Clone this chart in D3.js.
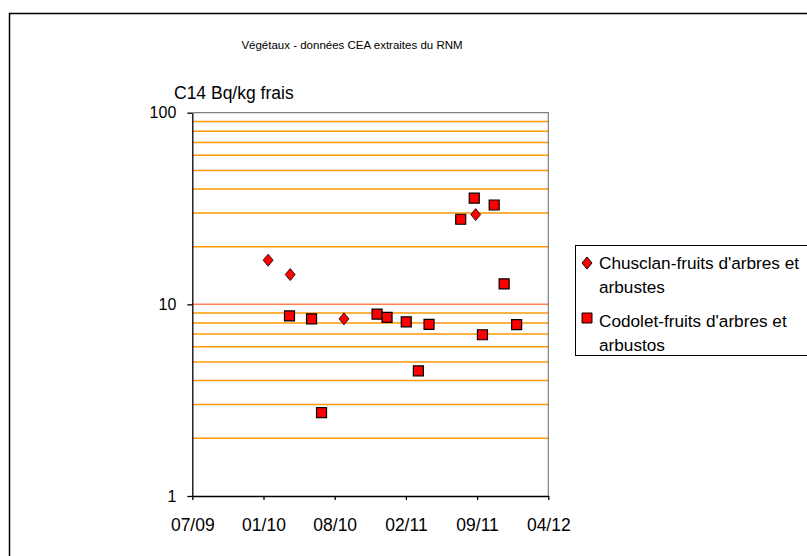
<!DOCTYPE html>
<html>
<head>
<meta charset="utf-8">
<script src="https://cdn.jsdelivr.net/npm/d3@7"></script>
<style>
  body { margin: 0; background: #fff; }
  text { font-family: "Liberation Sans", Arial, sans-serif; fill: #000; }
</style>
</head>
<body>
<div id="chart"></div>
<script>
(function() {
    // Chart data (dates of samples, C14 Bq/kg frais)
    const chusclanDates = ["2010-02-04", "2010-04-07", "2010-09-05", "2011-09-10"];
    const chusclanValues = [17.0, 14.3, 8.4, 29.4];

    const codoletDates = ["2010-04-05", "2010-06-06", "2010-07-04", "2010-12-07", "2011-01-04",
                          "2011-02-27", "2011-04-02", "2011-05-02", "2011-07-30", "2011-09-06",
                          "2011-09-29", "2011-11-01", "2011-11-29", "2012-01-03"];
    const codoletValues = [8.7, 8.4, 2.72, 8.9, 8.56, 8.1, 4.5, 7.87, 27.8, 35.8, 6.94, 33.0, 12.8, 7.83];

    const legendLines = [["Chusclan-fruits d'arbres et", "arbustes"], ["Codolet-fruits d'arbres et", "arbustos"]];

    // Excel date axis: 06/07/2009 to 01/04/2012, major unit 200 days
    const xTickDates = ["2009-07-06", "2010-01-22", "2010-08-10", "2011-02-26", "2011-09-14", "2012-04-01"];
    const yTicks = [1, 10, 100];
    const gridValues = [2, 3, 4, 5, 6, 7, 8, 9, 20, 30, 40, 50, 60, 70, 80, 90];

    const title = "Végétaux - données CEA extraites du RNM";
    const yLabel = "C14 Bq/kg frais";

    const W = 807, H = 556;
    const plot = {left: 192.3, right: 548.3, top: 112.7, bottom: 496};

    const parse = d3.utcParse("%Y-%m-%d");
    const fmt = d3.utcFormat("%m/%y");

    const svg = d3.select("#chart")
        .append("svg")
        .attr("width", W)
        .attr("height", H);

    // Outer chart frame
    svg.append("rect")
        .attr("x", 9.5)
        .attr("y", 13.5)
        .attr("width", W + 20)
        .attr("height", H + 20)
        .attr("fill", "#fff")
        .attr("stroke", "#000")
        .attr("stroke-width", 1.5);

    const xScale = d3.scaleUtc()
        .domain([parse(xTickDates[0]), parse(xTickDates[xTickDates.length - 1])])
        .range([plot.left, plot.right]);

    const yScale = d3.scaleLog()
        .domain([1, 100])
        .range([plot.bottom, plot.top]);

    // Gridlines
    svg.append("g")
        .selectAll("line")
        .data(gridValues)
        .enter()
        .append("line")
        .attr("x1", plot.left)
        .attr("x2", plot.right)
        .attr("y1", d => yScale(d))
        .attr("y2", d => yScale(d))
        .attr("stroke", "#ff9900")
        .attr("stroke-width", 1.5);

    svg.append("line")
        .attr("x1", plot.left)
        .attr("x2", plot.right)
        .attr("y1", yScale(10))
        .attr("y2", yScale(10))
        .attr("stroke", "#ff7f50")
        .attr("stroke-width", 1.5);

    // Plot area border (top/right gray)
    svg.append("path")
        .attr("d", `M${plot.left},${plot.top}H${plot.right}V${plot.bottom}`)
        .attr("fill", "none")
        .attr("stroke", "#808080")
        .attr("stroke-width", 1.2);

    // Axes
    const xAxis = d3.axisBottom(xScale)
        .tickValues(xTickDates.map(parse))
        .tickFormat(fmt)
        .tickSizeInner(4)
        .tickSizeOuter(0)
        .tickPadding(19);

    const gx = svg.append("g")
        .attr("transform", `translate(0, ${plot.bottom})`)
        .call(xAxis);
    gx.selectAll("text")
        .style("font-size", "17.5px")
        .style("font-family", "Liberation Sans, Arial, sans-serif");
    gx.selectAll("line, path").attr("stroke", "#000").attr("stroke-width", 1.3);

    const yAxis = d3.axisLeft(yScale)
        .tickValues(yTicks)
        .tickFormat(d3.format("d"))
        .tickSizeInner(5)
        .tickSizeOuter(0)
        .tickPadding(11);

    const gy = svg.append("g")
        .attr("transform", `translate(${plot.left}, 0)`)
        .call(yAxis);
    gy.selectAll("text")
        .style("font-size", "16px")
        .style("font-family", "Liberation Sans, Arial, sans-serif");
    gy.selectAll("line, path").attr("stroke", "#000").attr("stroke-width", 1.3);

    // Title and axis label
    svg.append("text")
        .attr("x", 352)
        .attr("y", 49)
        .attr("text-anchor", "middle")
        .style("font-size", "11.5px")
        .text(title);

    svg.append("text")
        .attr("x", 174)
        .attr("y", 99)
        .style("font-size", "17.5px")
        .text(yLabel);

    // Markers
    const diamond = "M0,-6L5,0L0,6L-5,0Z";
    const square = "M-5,-5H5V5H-5Z";

    const chusclan = chusclanDates.map((d, i) => ({date: parse(d), value: chusclanValues[i]}));
    const codolet = codoletDates.map((d, i) => ({date: parse(d), value: codoletValues[i]}));

    svg.append("g")
        .selectAll("path")
        .data(codolet)
        .enter()
        .append("path")
        .attr("d", square)
        .attr("transform", d => `translate(${xScale(d.date)}, ${yScale(d.value)})`)
        .attr("fill", "#ff0000")
        .attr("stroke", "#000")
        .attr("stroke-width", 1.2);

    svg.append("g")
        .selectAll("path")
        .data(chusclan)
        .enter()
        .append("path")
        .attr("d", diamond)
        .attr("transform", d => `translate(${xScale(d.date)}, ${yScale(d.value)})`)
        .attr("fill", "#ff0000")
        .attr("stroke", "#000")
        .attr("stroke-width", 0.8);

    // Legend
    const legend = svg.append("g").attr("class", "legend");
    legend.append("rect")
        .attr("x", 575.5)
        .attr("y", 245.5)
        .attr("width", 260)
        .attr("height", 110)
        .attr("fill", "#fff")
        .attr("stroke", "#000")
        .attr("stroke-width", 1);

    const legendItems = [
        {shape: diamond, y: 263, lines: legendLines[0], base: 269},
        {shape: square, y: 318, lines: legendLines[1], base: 327}
    ];

    legendItems.forEach(item => {
        legend.append("path")
            .attr("d", item.shape)
            .attr("transform", `translate(587, ${item.y})`)
            .attr("fill", "#ff0000")
            .attr("stroke", "#000")
            .attr("stroke-width", 1);
        item.lines.forEach((line, j) => {
            legend.append("text")
                .attr("x", 599)
                .attr("y", item.base + j * 24)
                .style("font-size", "17.2px")
                .text(line);
        });
    });
})();
</script>
</body>
</html>
